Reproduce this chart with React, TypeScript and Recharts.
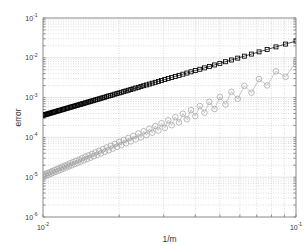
import React from 'react';
import { LineChart, Line, XAxis, YAxis, CartesianGrid } from 'recharts';

const mValues = [
  10, 11, 12, 13, 14, 15, 16, 17, 18, 19,
  20, 21, 22, 23, 24, 25, 26, 27, 28, 29,
  30, 31, 32, 33, 34, 35, 36, 37, 38, 39,
  40, 41, 42, 43, 44, 45, 46, 47, 48, 49,
  50, 51, 52, 53, 54, 55, 56, 57, 58, 59,
  60, 61, 62, 63, 64, 65, 66, 67, 68, 69,
  70, 71, 72, 73, 74, 75, 76, 77, 78, 79,
  80, 81, 82, 83, 84, 85, 86, 87, 88, 89,
  90, 91, 92, 93, 94, 95, 96, 97, 98, 99,
  100,
];

const squareErr = [
  2.64e-2, 2.21e-2, 1.88e-2, 1.62e-2, 1.41e-2, 1.24e-2, 1.10e-2, 9.81e-3, 8.82e-3, 7.97e-3,
  7.24e-3, 6.61e-3, 6.06e-3, 5.58e-3, 5.15e-3, 4.78e-3, 4.44e-3, 4.14e-3, 3.87e-3, 3.62e-3,
  3.40e-3, 3.20e-3, 3.01e-3, 2.84e-3, 2.69e-3, 2.55e-3, 2.42e-3, 2.30e-3, 2.19e-3, 2.08e-3,
  1.99e-3, 1.90e-3, 1.81e-3, 1.74e-3, 1.66e-3, 1.59e-3, 1.53e-3, 1.47e-3, 1.41e-3, 1.36e-3,
  1.31e-3, 1.26e-3, 1.22e-3, 1.17e-3, 1.13e-3, 1.10e-3, 1.06e-3, 1.02e-3, 9.93e-4, 9.61e-4,
  9.31e-4, 9.03e-4, 8.76e-4, 8.51e-4, 8.26e-4, 8.02e-4, 7.80e-4, 7.58e-4, 7.37e-4, 7.18e-4,
  6.99e-4, 6.80e-4, 6.63e-4, 6.46e-4, 6.30e-4, 6.14e-4, 5.99e-4, 5.85e-4, 5.71e-4, 5.57e-4,
  5.44e-4, 5.32e-4, 5.20e-4, 5.08e-4, 4.97e-4, 4.86e-4, 4.76e-4, 4.66e-4, 4.56e-4, 4.46e-4,
  4.37e-4, 4.28e-4, 4.19e-4, 4.11e-4, 4.03e-4, 3.95e-4, 3.87e-4, 3.80e-4, 3.73e-4, 3.66e-4,
  3.59e-4,
];

const circleErr = [
  7.84e-3, 3.32e-3, 4.57e-3, 2.03e-3, 2.91e-3, 1.33e-3, 1.97e-3, 9.29e-4, 1.40e-3, 6.74e-4,
  1.04e-3, 5.17e-4, 7.83e-4, 4.17e-4, 6.12e-4, 3.42e-4, 4.86e-4, 2.84e-4, 3.93e-4, 2.38e-4,
  3.23e-4, 2.03e-4, 2.69e-4, 1.74e-4, 2.26e-4, 1.49e-4, 1.93e-4, 1.31e-4, 1.65e-4, 1.14e-4,
  1.43e-4, 1.00e-4, 1.25e-4, 8.91e-5, 1.09e-4, 7.95e-5, 9.64e-5, 7.11e-5, 8.58e-5, 6.39e-5,
  7.65e-5, 5.77e-5, 6.86e-5, 5.23e-5, 6.18e-5, 4.75e-5, 5.59e-5, 4.34e-5, 5.06e-5, 3.97e-5,
  4.60e-5, 3.64e-5, 4.21e-5, 3.35e-5, 3.85e-5, 3.09e-5, 3.54e-5, 2.86e-5, 3.26e-5, 2.65e-5,
  3.01e-5, 2.46e-5, 2.78e-5, 2.28e-5, 2.59e-5, 2.14e-5, 2.40e-5, 1.99e-5, 2.24e-5, 1.87e-5,
  2.08e-5, 1.75e-5, 1.95e-5, 1.64e-5, 1.83e-5, 1.54e-5, 1.71e-5, 1.45e-5, 1.61e-5, 1.37e-5,
  1.51e-5, 1.30e-5, 1.42e-5, 1.23e-5, 1.34e-5, 1.15e-5, 1.27e-5, 1.10e-5, 1.20e-5, 1.04e-5,
  1.14e-5,
];

const xTicks = [0.01, 0.02, 0.03, 0.04, 0.05, 0.06, 0.07, 0.08, 0.09, 0.1];
const xMinor = [0.02, 0.03, 0.04, 0.05, 0.06, 0.07, 0.08, 0.09];
const yTicks = [
  1e-6, 2e-6, 3e-6, 4e-6, 5e-6, 6e-6, 7e-6, 8e-6, 9e-6,
  1e-5, 2e-5, 3e-5, 4e-5, 5e-5, 6e-5, 7e-5, 8e-5, 9e-5,
  1e-4, 2e-4, 3e-4, 4e-4, 5e-4, 6e-4, 7e-4, 8e-4, 9e-4,
  1e-3, 2e-3, 3e-3, 4e-3, 5e-3, 6e-3, 7e-3, 8e-3, 9e-3,
  1e-2, 2e-2, 3e-2, 4e-2, 5e-2, 6e-2, 7e-2, 8e-2, 9e-2,
  1e-1,
];
const yMinor = yTicks.filter((v) => !isMajor(v));
const yMajorInner = [1e-5, 1e-4, 1e-3, 1e-2];

function isMajor(v: number) {
  const l = Math.log10(v);
  return Math.abs(l - Math.round(l)) < 1e-6;
}

const data = mValues.map((m, i) => ({ x: 1 / m, sq: squareErr[i], ci: circleErr[i] }));

const FONT = 'Liberation Sans, Arial, Helvetica, sans-serif';
const TEXT = '#333333';
const AXIS = '#8a8a8a';

const XTick = (props: any) => {
  const { x, y, payload } = props;
  const v = payload.value;
  if (!isMajor(v)) return <g />;
  const e = Math.round(Math.log10(v));
  return (
    <text x={x} y={y + 7} textAnchor="middle" fontFamily={FONT} fill={TEXT}>
      <tspan fontSize={7}>10</tspan>
      <tspan fontSize={5} dy={-3.5}>{String(e)}</tspan>
    </text>
  );
};

const YTick = (props: any) => {
  const { x, y, payload } = props;
  const v = payload.value;
  if (!isMajor(v)) return <g />;
  const e = Math.round(Math.log10(v));
  return (
    <text x={x} y={y + 2.5} textAnchor="end" fontFamily={FONT} fill={TEXT}>
      <tspan fontSize={7}>10</tspan>
      <tspan fontSize={5} dy={-3.5}>{String(e)}</tspan>
    </text>
  );
};

const EmptyTick = () => <g />;

const Square = (p: any) => {
  if (p.cx == null || p.cy == null) return <g key={p.index} />;
  return (
    <rect key={p.index} x={p.cx - 2} y={p.cy - 2} width={4} height={4}
      fill="none" stroke="#000" strokeWidth={0.85} />
  );
};

const Circle = (p: any) => {
  if (p.cx == null || p.cy == null) return <g key={p.index} />;
  return (
    <circle key={p.index} cx={p.cx} cy={p.cy} r={2.8}
      fill="none" stroke="#a3a3a3" strokeWidth={0.75} />
  );
};

export default function App() {
  return (
    <div style={{ position: 'fixed', left: 0, top: 0, width: 305, height: 245, background: '#fff' }}>
      <LineChart width={305} height={245} data={data} margin={{ top: 0, right: 0, bottom: 0, left: 0 }}>
        <XAxis xAxisId="b" dataKey="x" type="number" scale="log" domain={[0.01, 0.1]} allowDataOverflow
          ticks={xTicks} interval={0} height={28} tickSize={-2.5} tickMargin={8}
          axisLine={{ stroke: AXIS }} tickLine={{ stroke: AXIS }} tick={<XTick />}
          label={{ value: '1/m', position: 'insideBottom', offset: 3, fontSize: 8.5, fill: TEXT, fontFamily: FONT }} />
        <XAxis xAxisId="t" orientation="top" type="number" scale="log" domain={[0.01, 0.1]} allowDataOverflow
          ticks={xTicks} interval={0} height={18} tickSize={-2.5}
          axisLine={{ stroke: AXIS }} tickLine={{ stroke: AXIS }} tick={<EmptyTick />} />
        <YAxis yAxisId="l" type="number" scale="log" domain={[1e-6, 1e-1]} allowDataOverflow
          ticks={yTicks} interval={0} width={43} tickSize={-2.5} tickMargin={8}
          axisLine={{ stroke: AXIS }} tickLine={{ stroke: AXIS }} tick={<YTick />}
          label={{ value: 'error', angle: -90, position: 'center', dx: -4, fontSize: 8.5, fill: TEXT, fontFamily: FONT }} />
        <YAxis yAxisId="r" orientation="right" type="number" scale="log" domain={[1e-6, 1e-1]} allowDataOverflow
          ticks={yTicks} interval={0} width={9} tickSize={-2.5}
          axisLine={{ stroke: AXIS }} tickLine={{ stroke: AXIS }} tick={<EmptyTick />} />
        <CartesianGrid xAxisId="b" yAxisId="l" vertical={false} horizontalValues={yMajorInner}
          stroke="#e4e4e4" strokeWidth={1} />
        <CartesianGrid xAxisId="b" yAxisId="l" horizontalValues={yMinor} verticalValues={xMinor}
          stroke="#c4c4c4" strokeWidth={0.6} strokeDasharray="1 1.5" />
        <Line xAxisId="b" yAxisId="l" type="linear" dataKey="ci" stroke="#a3a3a3" strokeWidth={0.6}
          dot={Circle} isAnimationActive={false} />
        <Line xAxisId="b" yAxisId="l" type="linear" dataKey="sq" stroke="#000" strokeWidth={0.7}
          dot={Square} isAnimationActive={false} />
      </LineChart>
    </div>
  );
}
